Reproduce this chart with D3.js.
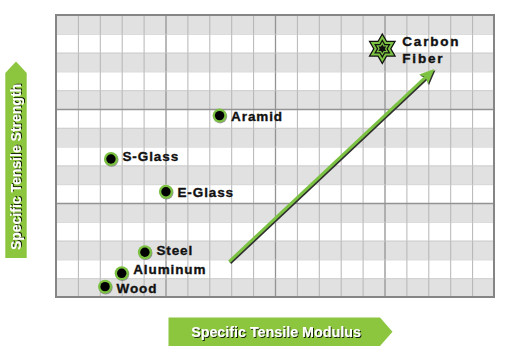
<!DOCTYPE html>
<html><head><meta charset="utf-8">
<script src="https://cdn.jsdelivr.net/npm/d3@7"></script>
<style>
html,body{margin:0;padding:0;background:#fff;}
svg{display:block;font-family:"Liberation Sans",Arial,sans-serif;}
</style></head>
<body><svg id="chart" width="509" height="352"></svg>
<script>
// ---- data (grid units: x 0..20 modulus, y 0..15 strength) ----
const materials = ["Wood","Aluminum","Steel","E-Glass","S-Glass","Aramid"];
const modulus   = [2.24, 3.0, 4.06, 5.02, 2.51, 7.47];
const strength  = [0.55, 1.26, 2.38, 5.6, 7.34, 9.65];
const starName  = ["Carbon","Fiber"];
const starPoint = [14.9, 13.2];
const arrowFrom = [7.91, 1.88];
const arrowTo   = [17.28, 12.13];
const xTitle = "Specific Tensile Modulus";
const yTitle = "Specific Tensile Strength";
const xCols = 20, yRows = 15;

// ---- layout ----
const L = 56, R = 494, T = 15, B = 297;
const green = "#8cc63f";
const svg = d3.select("#chart");
const x = d3.scaleLinear().domain([0, xCols]).range([L, R]);
const y = d3.scaleLinear().domain([0, yRows]).range([B, T]);

// bands
const g = svg.append("g");
g.selectAll("rect.band").data(d3.range(yRows).filter(i => i % 2 === 0))
  .join("rect").attr("class","band")
  .attr("x", L).attr("width", R - L)
  .attr("y", i => y(yRows - i)).attr("height", i => y(yRows - i - 1) - y(yRows - i))
  .attr("fill", "#e1e1e1");

// grid via axes
const xg = svg.append("g").attr("transform", `translate(0,${B})`)
  .call(d3.axisBottom(x).tickValues(d3.range(1, xCols)).tickSize(-(B - T)).tickFormat(""));
xg.select(".domain").remove();
xg.selectAll(".tick line").attr("stroke", d => d % 5 === 0 ? "#939393" : "#b6b6b6")
  .attr("stroke-width", d => d % 5 === 0 ? 1.3 : 1);
const yg = svg.append("g").attr("transform", `translate(${L},0)`)
  .call(d3.axisLeft(y).tickValues(d3.range(1, yRows)).tickSize(-(R - L)).tickFormat(""));
yg.select(".domain").remove();
yg.selectAll(".tick line").attr("stroke", d => d % 5 === 0 ? "#939393" : "#c6c6c6")
  .attr("stroke-width", d => d % 5 === 0 ? 1.3 : 0.8);

// border
svg.append("rect").attr("x", L).attr("y", T).attr("width", R - L).attr("height", B - T)
  .attr("fill", "none").attr("stroke", "#858585").attr("stroke-width", 2);

// arrow
function drawArrow(dx, dy, color) {
  const x0 = x(arrowFrom[0]) + dx, y0 = y(arrowFrom[1]) + dy;
  const x1 = x(arrowTo[0]) + dx, y1 = y(arrowTo[1]) + dy;
  const ang = Math.atan2(y1 - y0, x1 - x0);
  const hl = 15, hw = 6.5;
  const bx = x1 - hl * Math.cos(ang), by = y1 - hl * Math.sin(ang);
  const ag = svg.append("g");
  ag.append("line").attr("x1", x0).attr("y1", y0)
    .attr("x2", bx + 3 * Math.cos(ang)).attr("y2", by + 3 * Math.sin(ang))
    .attr("stroke", color).attr("stroke-width", 3);
  const px = -Math.sin(ang), py = Math.cos(ang);
  const pts = [[x1, y1], [bx + hw * px, by + hw * py], [bx + 3 * Math.cos(ang), by + 3 * Math.sin(ang)], [bx - hw * px, by - hw * py]];
  ag.append("path").attr("d", d3.line()(pts) + "Z").attr("fill", color);
}
drawArrow(1, 1.2, "#2e2e2e");
drawArrow(0, 0, "#7cc242");

// markers
const labelDy = [6, 0.5, 3, 5, 1.5, 5];
const mg = svg.append("g");
materials.forEach((m, i) => {
  const cx = x(modulus[i]), cy = y(strength[i]);
  mg.append("circle").attr("cx", cx + 0.6).attr("cy", cy + 0.8).attr("r", 7).attr("fill", "#555").attr("opacity", 0.6);
  mg.append("circle").attr("cx", cx).attr("cy", cy).attr("r", 7).attr("fill", "#7cc242");
  mg.append("circle").attr("cx", cx).attr("cy", cy).attr("r", 4.7).attr("fill", "#000");
  mg.append("text").attr("x", cx + 11.5).attr("y", cy + labelDy[i])
    .attr("font-size", 13.5).attr("font-weight", "bold").attr("letter-spacing", 0.9)
    .attr("fill", "#111").attr("stroke", "#111").attr("stroke-width", 0.35).text(m);
});

// star
function hexagram(r) {
  const pts = [];
  for (let k = 0; k < 12; k++) {
    const a = -Math.PI / 2 + k * Math.PI / 6;
    const rr = k % 2 === 0 ? r : r / Math.sqrt(3);
    pts.push([rr * Math.cos(a), rr * Math.sin(a)]);
  }
  return d3.line()(pts) + "Z";
}
const sx = x(starPoint[0]), sy = y(starPoint[1]);
const sg = svg.append("g").attr("transform", `translate(${sx},${sy})`);
[[16, "#111"], [13.5, "#7cc242"], [9.5, "#111"], [7, "#7cc242"], [4.5, "#111"]]
  .forEach(([r, c]) => sg.append("path").attr("d", hexagram(r)).attr("fill", c));
const st = svg.append("text").attr("x", sx + 20).attr("y", sy - 2.5)
  .attr("font-size", 13.5).attr("font-weight", "bold").attr("letter-spacing", 1.8)
  .attr("fill", "#111").attr("stroke", "#111").attr("stroke-width", 0.4);
st.selectAll("tspan").data(starName).join("tspan")
  .attr("x", sx + 20).attr("dy", (d, i) => i === 0 ? 0 : 16.5).text(d => d);

// axis title banners
const shadow = svg.append("defs").append("filter").attr("id", "sh")
  .attr("x", "-10%").attr("y", "-30%").attr("width", "130%").attr("height", "170%");
shadow.append("feDropShadow").attr("dx", 1).attr("dy", 1).attr("stdDeviation", 0.6)
  .attr("flood-color", "#000").attr("flood-opacity", 0.85);

svg.append("path").attr("d", "M168.5,317.5 L380,317.5 L392.5,331.7 L380,346 L168.5,346 Z").attr("fill", green);
svg.append("text").attr("x", 276).attr("y", 337).attr("text-anchor", "middle")
  .attr("font-size", 14.3).attr("font-weight", "bold").attr("fill", "#fff")
  .attr("filter", "url(#sh)").text(xTitle);

svg.append("path").attr("d", "M5.3,258 L5.3,73 L16,61.5 L26.7,73 L26.7,258 Z").attr("fill", green);
svg.append("text").attr("transform", "translate(21,167) rotate(-90)").attr("text-anchor", "middle")
  .attr("font-size", 14).attr("font-weight", "bold").attr("fill", "#fff")
  .attr("filter", "url(#sh)").text(yTitle);
</script></body></html>
